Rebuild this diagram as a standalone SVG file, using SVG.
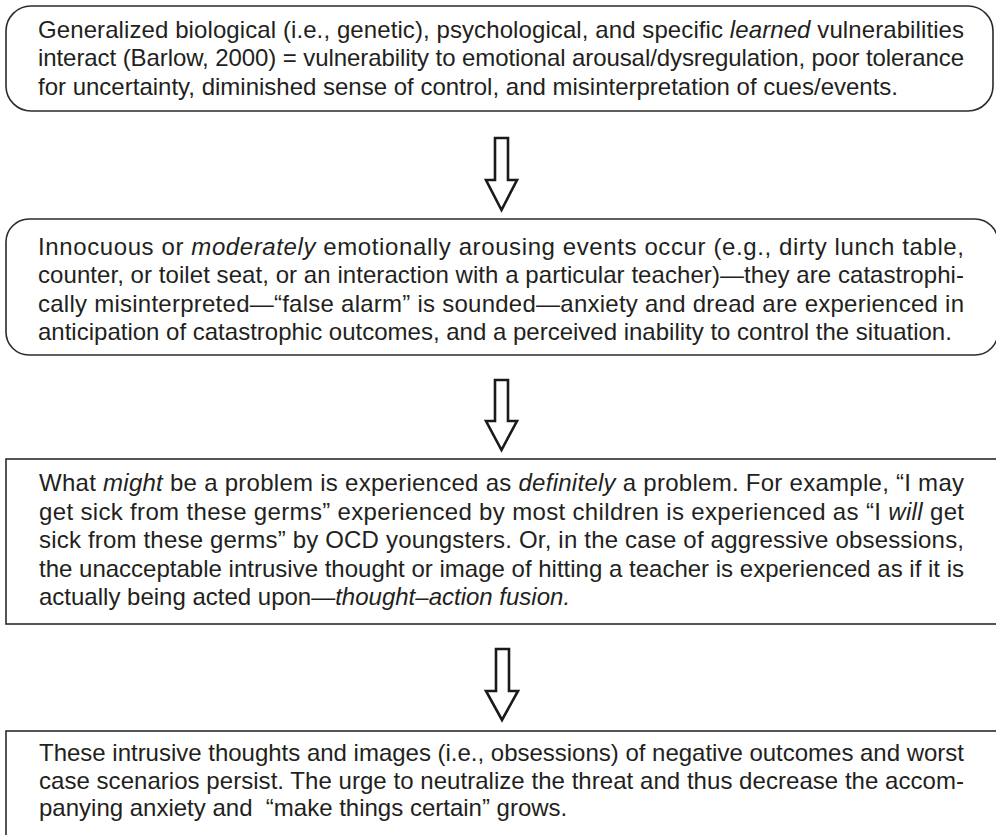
<svg xmlns="http://www.w3.org/2000/svg" width="996" height="835" viewBox="0 0 996 835">
<style>
.box{fill:#fff;stroke:#2b2b2b;stroke-width:1.6}
.t{font-family:"Liberation Sans",Arial,Helvetica,sans-serif;font-size:24px;fill:#231f20}
.i{font-style:italic}
.arrow{fill:#fff;stroke:#1a1a1a;stroke-width:2.6;stroke-linejoin:miter}
</style>
<rect width="996" height="835" fill="#fff"/>
<g id="node1">
<rect class="box" x="6" y="6" width="987" height="105" rx="25" ry="25"/>
<text class="t" x="38" y="37.5" textLength="926" lengthAdjust="spacing">Generalized biological (i.e., genetic), psychological, and specific <tspan class="i">learned</tspan> vulnerabilities</text>
<text class="t" x="38" y="66" textLength="926" lengthAdjust="spacing">interact (Barlow, 2000) = vulnerability to emotional arousal/dysregulation, poor tolerance</text>
<text class="t" x="38" y="94.5">for uncertainty, diminished sense of control, and misinterpretation of cues/events.</text>
</g>
<g id="node2">
<rect class="box" x="6" y="219" width="992" height="136" rx="23" ry="23"/>
<text class="t" x="38" y="254.5" textLength="926" lengthAdjust="spacing">Innocuous or <tspan class="i">moderately</tspan> emotionally arousing events occur (e.g., dirty lunch table,</text>
<text class="t" x="38" y="283" textLength="926" lengthAdjust="spacing">counter, or toilet seat, or an interaction with a particular teacher)—they are catastrophi-</text>
<text class="t" x="38" y="311.5" textLength="926" lengthAdjust="spacing">cally misinterpreted—“false alarm” is sounded—anxiety and dread are experienced in</text>
<text class="t" x="38" y="340">anticipation of catastrophic outcomes, and a perceived inability to control the situation.</text>
</g>
<g id="node3">
<rect class="box" x="6" y="459" width="1000" height="165"/>
<text class="t" x="39" y="491" textLength="925" lengthAdjust="spacing">What <tspan class="i">might</tspan> be a problem is experienced as <tspan class="i">definitely</tspan> a problem. For example, “I may</text>
<text class="t" x="39" y="519.5" textLength="925" lengthAdjust="spacing">get sick from these germs” experienced by most children is experienced as “I <tspan class="i">will</tspan> get</text>
<text class="t" x="39" y="548" textLength="925" lengthAdjust="spacing">sick from these germs” by OCD youngsters. Or, in the case of aggressive obsessions,</text>
<text class="t" x="39" y="576.5" textLength="925" lengthAdjust="spacing">the unacceptable intrusive thought or image of hitting a teacher is experienced as if it is</text>
<text class="t" x="39" y="605">actually being acted upon—<tspan class="i">thought–action fusion.</tspan></text>
</g>
<g id="node4">
<rect class="box" x="6" y="731" width="1000" height="120"/>
<text class="t" x="39" y="761" textLength="925" lengthAdjust="spacing">These intrusive thoughts and images (i.e., obsessions) of negative outcomes and worst</text>
<text class="t" x="39" y="789" textLength="925" lengthAdjust="spacing">case scenarios persist. The urge to neutralize the threat and thus decrease the accom-</text>
<text class="t" x="39" y="816">panying anxiety and&#160; “make things certain” grows.</text>
</g>
<g id="connectors">
<path class="arrow" d="M495,138 H508 V180 H517 L501.5,210 L486,180 H495 Z"/>
<path class="arrow" d="M495,380 H508 V421 H517 L501.5,450 L486,421 H495 Z"/>
<path class="arrow" d="M496,649 H509 V691 H518 L502,720 L486,691 H496 Z"/>
</g>
</svg>
